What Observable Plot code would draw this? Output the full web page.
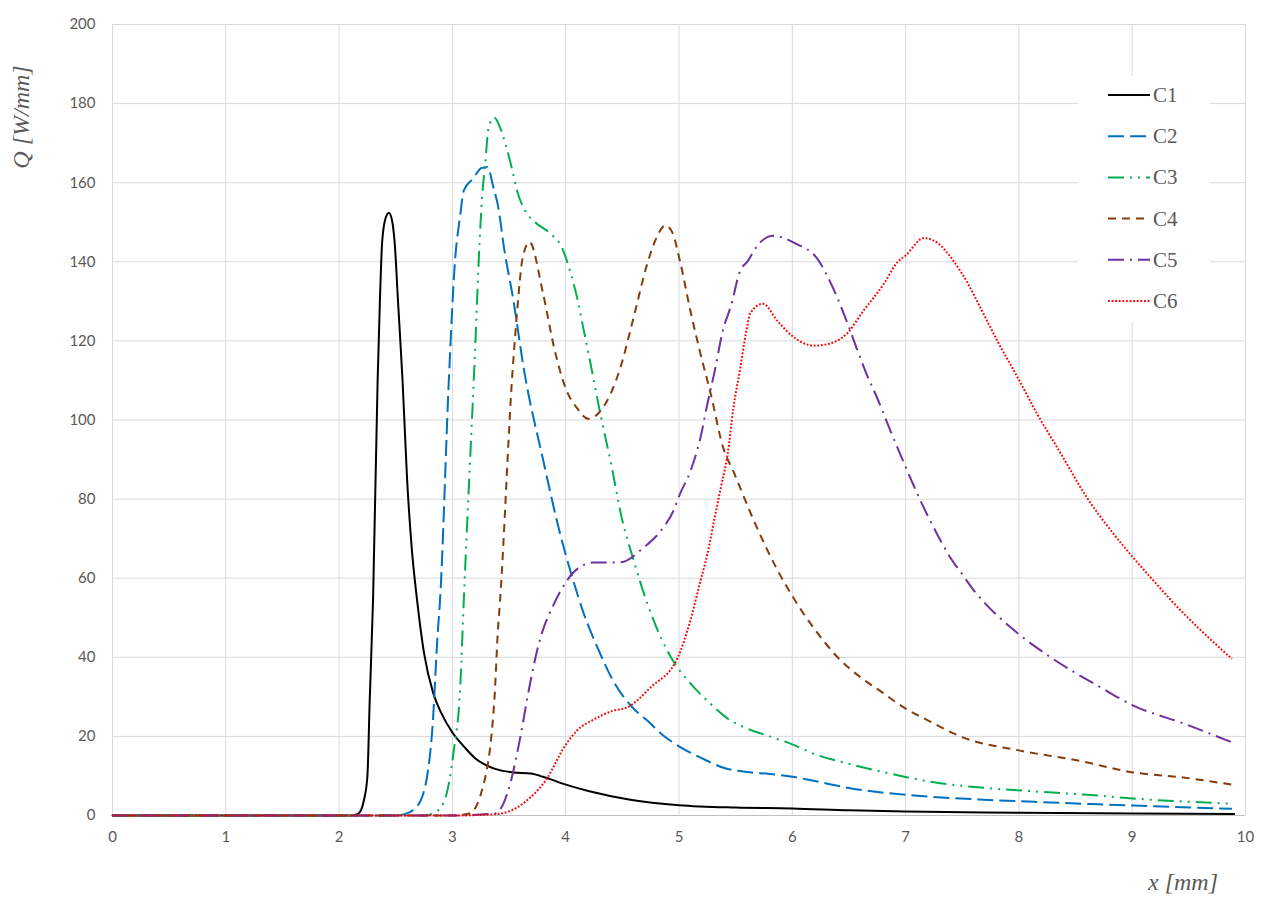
<!DOCTYPE html>
<html>
<head>
<meta charset="utf-8">
<script src="https://cdn.jsdelivr.net/npm/d3@7"></script>
<script src="https://cdn.jsdelivr.net/npm/@observablehq/plot@0.6"></script>
<style>
  html, body { margin: 0; padding: 0; background: #fff; }
  #wrap { position: relative; width: 1274px; height: 910px; }
  #legend { position: absolute; left: 0; top: 0; }
</style>
</head>
<body>
<div id="wrap"></div>
<script>
// ---- Data (x in mm, Q in W/mm) ----
const seriesNames = ["C1", "C2", "C3", "C4", "C5", "C6"];
const seriesColors = ["#000000", "#0070C0", "#00B050", "#843C0C", "#7030A0", "#FF0000"];
const seriesDash = ["none", "16,6", "16,6,2,6,2,6", "8,6", "16,6,2,6", "1.8,1.8"];

const xTicks = [0, 1, 2, 3, 4, 5, 6, 7, 8, 9, 10];
const yTicks = [0, 20, 40, 60, 80, 100, 120, 140, 160, 180, 200];

const C1_x = [0, 1, 2, 2.1, 2.17, 2.22, 2.25, 2.27, 2.3, 2.34, 2.36, 2.38, 2.41, 2.44, 2.47, 2.49, 2.52, 2.56, 2.6, 2.64, 2.69, 2.75, 2.83, 2.9, 3.0, 3.1, 3.2, 3.3, 3.4, 3.54, 3.69, 3.8, 3.98, 4.2, 4.57, 5.0, 5.5, 6.0, 6.5, 7.0, 8.0, 9.0, 9.9];
const C1_q = [0, 0, 0, 0, 0.5, 4, 10, 29, 55, 110, 130, 145, 151, 152.4, 150, 145, 130, 110, 85, 68, 54, 41, 31, 26, 21, 17.5, 14.5, 12.7, 11.6, 10.9, 10.6, 9.8, 8, 6.2, 4, 2.6, 2, 1.8, 1.3, 1, 0.7, 0.5, 0.4];

const C2_x = [0, 1, 2, 2.5, 2.62, 2.72, 2.82, 2.87, 2.89, 2.97, 3.02, 3.07, 3.1, 3.18, 3.22, 3.25, 3.31, 3.36, 3.41, 3.45, 3.54, 3.63, 3.8, 3.95, 4.05, 4.16, 4.28, 4.42, 4.59, 4.72, 4.85, 5.0, 5.2, 5.4, 5.6, 5.8, 6.0, 6.2, 6.51, 7.1, 7.69, 8.28, 9.01, 9.88];
const C2_q = [0, 0, 0, 0, 0.8, 3.8, 20.7, 46, 54, 111, 139, 152, 158, 161, 162.6, 163.6, 164, 159, 153, 144.6, 130, 113, 90, 71.3, 61, 51, 42.5, 34, 27.3, 24, 20.5, 17.5, 14.5, 12, 11, 10.5, 9.8, 8.7, 6.9, 5, 4, 3.3, 2.5, 1.7];

const C3_x = [0, 1, 2, 2.75, 2.86, 2.94, 3.01, 3.07, 3.1, 3.2, 3.24, 3.26, 3.29, 3.32, 3.37, 3.42, 3.48, 3.53, 3.57, 3.64, 3.73, 3.87, 3.97, 4.04, 4.1, 4.15, 4.2, 4.31, 4.4, 4.5, 4.6, 4.72, 4.84, 4.95, 5.1, 5.25, 5.43, 5.6, 5.8, 6.0, 6.2, 6.51, 6.8, 7.25, 7.69, 8.13, 8.57, 9.16, 9.88];
const C3_q = [0, 0, 0, 0, 1, 4.6, 16, 33, 54, 117.6, 145, 155.5, 165, 174, 176.5, 174, 168.6, 163, 158, 153, 150, 147, 143.4, 137.5, 131, 124, 117, 101, 89, 74.6, 64.5, 53.6, 45, 39, 33.4, 29, 24.5, 22, 20, 18, 15.5, 13, 11, 8.4, 7, 6.1, 5.3, 4, 3];

const C4_x = [0, 1, 2, 3, 3.15, 3.26, 3.37, 3.4, 3.42, 3.53, 3.57, 3.62, 3.68, 3.8, 3.9, 4.0, 4.1, 4.2, 4.31, 4.48, 4.6, 4.72, 4.8, 4.88, 4.94, 5.01, 5.1, 5.19, 5.28, 5.39, 5.48, 5.66, 5.87, 6.0, 6.1, 6.2, 6.3, 6.4, 6.5, 6.6, 6.8, 6.98, 7.2, 7.51, 8.01, 8.52, 9.01, 9.45, 9.88];
const C4_q = [0, 0, 0, 0, 0.5, 6.3, 29, 46, 54, 112, 127, 141, 145, 132, 118, 108, 103, 100.3, 102.4, 113, 126, 139.5, 146, 149.2, 147.5, 140, 127.7, 116.7, 106.6, 93, 87, 74.6, 62, 55.5, 51, 47, 43.3, 40, 37.3, 35, 31, 27.4, 24, 19.7, 16.4, 13.9, 10.9, 9.6, 7.8];

const C5_x = [0, 1, 2, 3, 3.38, 3.45, 3.51, 3.58, 3.69, 3.75, 3.8, 3.88, 3.95, 4.07, 4.25, 4.48, 4.69, 4.84, 4.95, 5.01, 5.1, 5.19, 5.25, 5.32, 5.38, 5.47, 5.53, 5.61, 5.69, 5.83, 6.03, 6.22, 6.37, 6.48, 6.57, 6.65, 6.75, 6.87, 6.98, 7.07, 7.2, 7.3, 7.4, 7.5, 7.6, 7.69, 7.95, 8.28, 8.72, 9.01, 9.45, 9.88];
const C5_q = [0, 0, 0, 0, 0.5, 3, 8, 17, 34, 42, 47, 52.5, 56.5, 61.5, 64, 64, 67.8, 72, 77, 81.4, 87, 95.6, 104, 113, 121.8, 130, 137, 140.3, 144, 146.6, 144.6, 140.8, 132.7, 125, 118, 112, 105.5, 97, 89.5, 83.5, 75.5, 70, 65, 61, 57, 54, 47, 40, 32.4, 27.8, 23.3, 18.5];

const C6_x = [0, 1, 2, 3, 3.37, 3.57, 3.69, 3.84, 3.98, 4.1, 4.25, 4.42, 4.54, 4.75, 4.99, 5.1, 5.19, 5.25, 5.31, 5.37, 5.43, 5.48, 5.54, 5.59, 5.63, 5.74, 5.87, 6.01, 6.19, 6.34, 6.48, 6.63, 6.81, 6.93, 7.0, 7.16, 7.29, 7.42, 7.55, 7.66, 7.81, 7.99, 8.16, 8.37, 8.6, 8.8, 9.0, 9.2, 9.34, 9.6, 9.88];
const C6_q = [0, 0, 0, 0, 0.3, 2, 4.6, 9.6, 17, 21.5, 24.3, 26.5, 27.3, 32.4, 40, 49.3, 59.4, 66, 74.6, 83, 91.5, 103, 113, 121.8, 127, 129.4, 125, 121, 118.8, 119.4, 121.8, 127.7, 134.5, 140, 141.6, 146, 144.6, 140.3, 134.5, 128.4, 120, 110.7, 101.6, 91.5, 80.4, 72.5, 65.5, 59, 54.5, 47, 39.6];

const seriesX = [C1_x, C2_x, C3_x, C4_x, C5_x, C6_x];
const seriesQ = [C1_q, C2_q, C3_q, C4_q, C5_q, C6_q];

const tickColor = "#595959";
const gridColor = "#d9d9d9";
const tickFont = "Lato, 'Open Sans', sans-serif";
const titleFont = "'Liberation Serif', 'DejaVu Serif', serif";

const lineMarks = seriesNames.map((name, i) => {
  const rows = seriesX[i].map((x, j) => ({x, q: seriesQ[i][j], s: name}));
  return Plot.line(rows, {
    x: "x", y: "q",
    stroke: seriesColors[i],
    strokeWidth: 2,
    strokeLinecap: i === 0 ? "round" : "butt",
    strokeDasharray: seriesDash[i] === "none" ? null : seriesDash[i],
    curve: "monotone-x"
  });
});

const chart = Plot.plot({
  width: 1274,
  height: 910,
  marginLeft: 112,
  marginRight: 29,
  marginTop: 24,
  marginBottom: 95,
  style: { fontFamily: tickFont, fontSize: "15px", color: tickColor, background: "#fff" },
  x: { domain: [0, 10] },
  y: { domain: [0, 200] },
  marks: [
    Plot.gridX(xTicks, { stroke: gridColor, strokeOpacity: 1, strokeWidth: 1 }),
    Plot.gridY(yTicks, { stroke: gridColor, strokeOpacity: 1, strokeWidth: 1 }),
    Plot.ruleY([0], { stroke: "#bfbfbf", strokeWidth: 1 }),
    Plot.axisX(xTicks, { tickSize: 0, tickPadding: 16, label: null, fill: tickColor, fontSize: 15, tickFormat: d3.format("d") }),
    Plot.axisY(yTicks, { tickSize: 0, tickPadding: 17, label: null, fill: tickColor, fontSize: 15, tickFormat: d3.format("d") }),
    ...lineMarks
  ]
});

const wrap = document.getElementById("wrap");
wrap.appendChild(chart);

// Overlay: axis titles and legend
const ov = d3.select(wrap).append("svg")
  .attr("id", "legend")
  .attr("width", 1274).attr("height", 910)
  .style("pointer-events", "none");

ov.append("text")
  .attr("transform", "translate(29,117) rotate(-90)")
  .attr("text-anchor", "middle")
  .attr("font-family", titleFont)
  .attr("font-style", "italic")
  .attr("font-size", 24)
  .attr("fill", tickColor)
  .text("Q [W/mm]");

ov.append("text")
  .attr("x", 1183).attr("y", 890)
  .attr("text-anchor", "middle")
  .attr("font-family", titleFont)
  .attr("font-style", "italic")
  .attr("font-size", 24)
  .attr("fill", tickColor)
  .text("x [mm]");

ov.append("rect")
  .attr("x", 1078).attr("y", 76).attr("width", 132).attr("height", 246)
  .attr("fill", "#fff");

seriesNames.forEach((name, i) => {
  const y = 95 + i * 41.2;
  ov.append("line")
    .attr("x1", 1108).attr("x2", 1150).attr("y1", y).attr("y2", y)
    .attr("stroke", seriesColors[i]).attr("stroke-width", 2)
    .attr("stroke-dasharray", seriesDash[i] === "none" ? null : seriesDash[i]);
  ov.append("text")
    .attr("x", 1153).attr("y", y + 7)
    .attr("font-family", titleFont)
    .attr("font-size", 21)
    .attr("fill", tickColor)
    .text(name);
});
</script>
</body>
</html>
